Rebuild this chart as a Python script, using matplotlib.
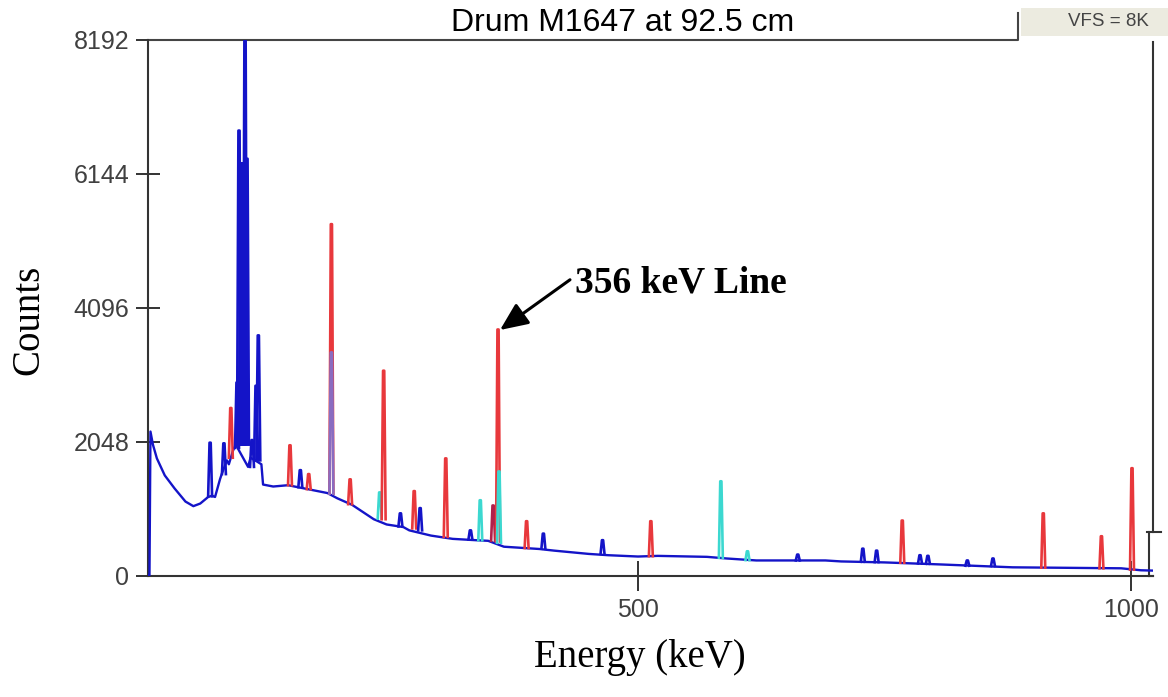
import matplotlib
matplotlib.use("Agg")
import matplotlib.pyplot as plt
from matplotlib.patches import Rectangle
import numpy as np

# continuum of the spectrum (energy keV, counts)
cont_e = [3, 4.5, 5.5, 8, 12, 20, 30, 41, 49, 56, 64, 68, 71, 76, 78, 83, 85, 89, 92,
          104.5, 107, 111.6, 118, 119.7, 130, 145, 165, 185, 195, 210, 225, 232, 245, 262,
          268, 290, 312, 335, 348, 364, 400, 415, 450, 470, 500, 520, 570, 590, 620,
          690, 706, 750, 805, 880, 990, 1010, 1022]
cont_c = [0, 0, 2200, 2000, 1790, 1530, 1330, 1130, 1060, 1100, 1200, 1220, 1200, 1470,
          1560, 1760, 1700, 1900, 2000, 1660, 1800, 1760, 1700, 1390, 1360, 1380, 1320,
          1260, 1180, 1080, 930, 860, 780, 740, 690, 610, 560, 540, 530, 440, 405, 380,
          330, 310, 290, 300, 285, 260, 230, 230, 215, 200, 170, 125, 110, 80, 75]

# peaks: centre (keV), top counts, base counts, colour key
peak_e = [66, 80, 87, 93.3, 95.3, 97.3, 99.3, 101.4, 103.4, 108.5, 112.6, 114.9, 147,
          157.5, 166, 189, 189, 208, 238, 242, 259, 273, 279, 305, 330, 340, 353, 358,
          359, 387, 404, 464, 513, 584, 611, 662, 728, 742, 768, 786, 794, 834, 860,
          911, 970, 1001]
peak_top = [2030, 2020, 2560, 2950, 6800, 6300, 6300, 8400, 6370, 2070, 2900, 3670, 1990,
            1610, 1550, 5370, 3410, 1470, 1270, 3130, 950, 1290, 1030, 1790, 690, 1150,
            1070, 3760, 1590, 830, 640, 540, 830, 1440, 370, 320, 410, 380, 840, 310,
            300, 230, 260, 950, 600, 1640]
peak_base = [1210, 1550, 1800, 1950, 2000, 2000, 2000, 2000, 2000, 1660, 1760, 1760, 1380,
             1350, 1320, 1250, 1250, 1090, 870, 860, 750, 720, 690, 590, 550, 540, 530,
             520, 500, 420, 410, 330, 295, 270, 235, 230, 210, 205, 195, 185, 180, 150,
             145, 120, 110, 90]
peak_col = ["b", "b", "r", "b", "b", "b", "b", "b", "b", "b", "b", "b", "r",
            "b", "r", "r", "p", "r", "c", "r", "b", "r", "b", "r", "b", "c", "d", "r",
            "c", "r", "b", "b", "r", "c", "c", "b", "b", "b", "r", "b", "b", "b", "b",
            "r", "r", "r"]

colmap = {"b": "#1414c8", "r": "#e8383c", "c": "#3cd8d0", "p": "#8a6cc0", "d": "#b0204a"}

y_ticks = [0, 2048, 4096, 6144, 8192]
x_ticks = [500, 1000]

fig = plt.figure(figsize=(11.68, 6.97), dpi=100)
ax = fig.add_axes([148 / 1168, 1 - 575.5 / 697, 1005 / 1168, 536 / 697])

ax.plot(cont_e, cont_c, color=colmap["b"], lw=1.7, zorder=3)
w = 2.0
for e, t, b, c in zip(peak_e, peak_top, peak_base, peak_col):
    ax.plot([e - w, e - 0.6, e + 0.6, e + w], [b, t, t, b], color=colmap[c],
            lw=1.9, zorder=4)

ax.set_xlim(3, 1022.3)
ax.set_ylim(0, 8192)

# frame: partial top line and right border as in the screenshot
for s in ["top", "right"]:
    ax.spines[s].set_visible(False)
for s in ["left", "bottom"]:
    ax.spines[s].set_color("#333333")
    ax.spines[s].set_linewidth(1.5)
ax.plot([3, 885.4, 885.4], [8192, 8192, 8597], color="#444444", lw=1.5, clip_on=False)
ax.plot([1022.3, 1022.3], [8150, 665], color="#333333", lw=1.5, clip_on=False)
ax.plot([1016, 1030], [665, 665], color="#333333", lw=1.5, clip_on=False)
ax.plot([1018.3, 1018.3], [665, 0], color="#333333", lw=1.5, clip_on=False)
ax.plot([1018.3, 1022.3], [0, 0], color="#333333", lw=1.5, clip_on=False)

ax.set_yticks(y_ticks)
ax.set_yticklabels([str(v) for v in y_ticks])
ax.set_xticks(x_ticks)
ax.set_xticklabels([str(v) for v in x_ticks])
ax.tick_params(axis="y", direction="inout", length=17, width=1.4, color="#333333",
               labelsize=18, labelcolor="#404040", pad=5)
ax.tick_params(axis="x", direction="inout", length=22, width=1.4, color="#333333",
               labelsize=18, labelcolor="#404040", pad=5)
for lab in ax.get_xticklabels() + ax.get_yticklabels():
    lab.set_family("Liberation Sans")

fig.text(29 / 1168, 1 - 320 / 697, "Counts", rotation=90, ha="center", va="center",
         family="Liberation Serif", fontsize=28)
fig.text(640 / 1168, 1 - 657 / 697, "Energy (keV)", ha="center", va="center",
         family="Liberation Serif", fontsize=28)
fig.text(623 / 1168, 1 - 23 / 697, "Drum M1647 at 92.5 cm", ha="center", va="center",
         family="Liberation Sans", fontsize=23)

fig.patches.append(Rectangle((1021 / 1168, 1 - 36 / 697), 147 / 1168, 28 / 697,
                             transform=fig.transFigure, facecolor="#ecebe0",
                             edgecolor="none"))
fig.text(1108 / 1168, 1 - 22 / 697, "VFS = 8K", ha="center", va="center",
         family="Liberation Sans", fontsize=13.5, color="#444444")

ax.text(436, 4470, "356 keV Line", ha="left", va="center", family="Liberation Serif",
        fontweight="bold", fontsize=27)
ax.annotate("", xy=(360, 3752), xytext=(431, 4520),
            arrowprops=dict(arrowstyle="-|>,head_length=1.7,head_width=0.75",
                            color="black", lw=2.2, shrinkA=0, shrinkB=0))

fig.savefig("out.png", dpi=100)
